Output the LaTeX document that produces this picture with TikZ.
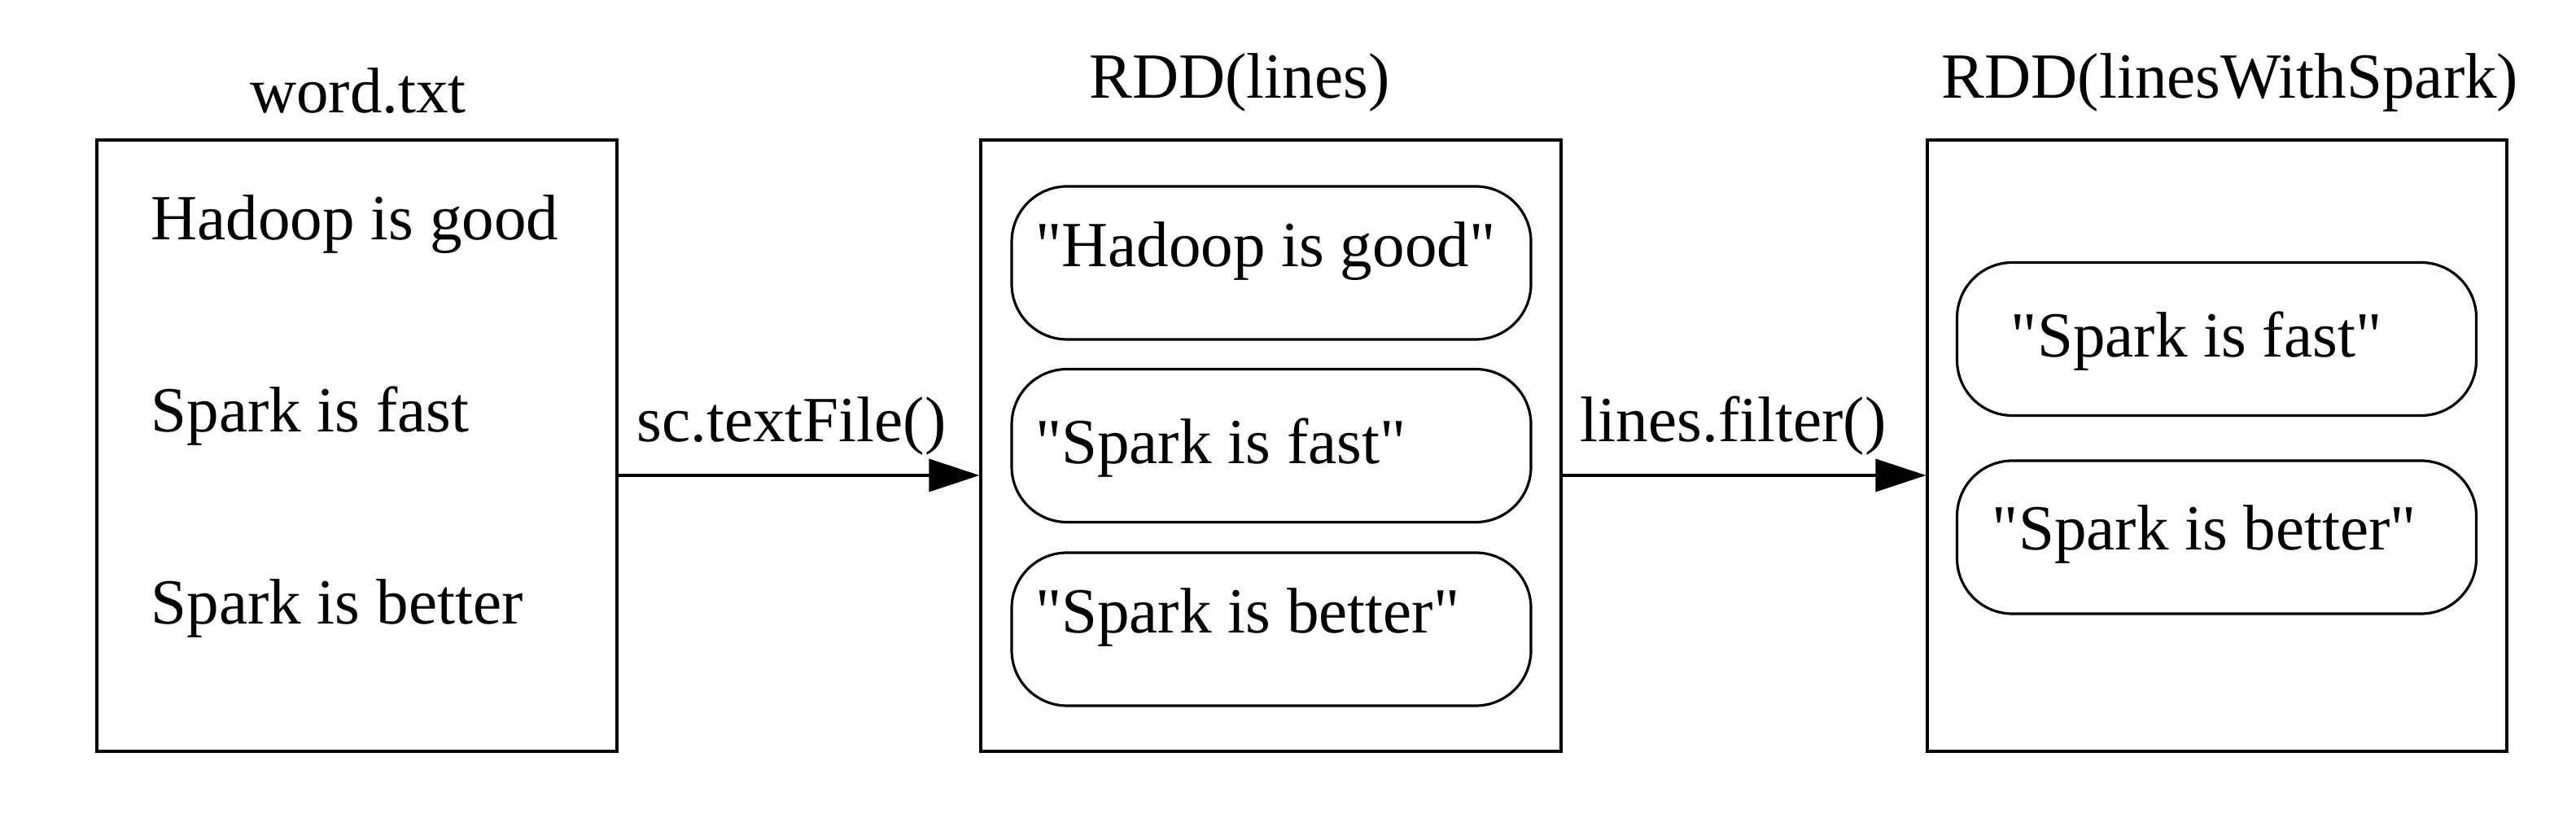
\documentclass[tikz,border=0pt]{standalone}
\usepackage{fontspec}
\setmainfont{Liberation Serif}
\usepackage{tikz}
\usetikzlibrary{arrows.meta,positioning}
\newcommand{\figfont}{\fontsize{22.5pt}{27pt}\selectfont}
\newcommand{\quoted}[1]{\textquotedbl#1\textquotedbl}
\newcommand{\rddrow}[1]{\makebox[5.8cm][l]{\quoted{#1}}}

\begin{document}
\begin{tikzpicture}[
  every node/.style={font=\figfont},
  store/.style={draw,line width=0.9pt,minimum height=7.51cm,inner sep=0pt},
  pill/.style={draw,line width=0.9pt,rounded corners=6.8mm,minimum height=1.88cm,
               minimum width=6.38cm,inner xsep=2.9mm,
               text height=5mm,text depth=4mm},
  lowpill/.style={pill,text height=7.5mm,text depth=3mm},
  heading/.style={anchor=base,inner sep=0pt},
  textline/.style={anchor=base west,inner sep=0pt},
  arrow/.style={-{Triangle[length=6.2mm,width=4mm]},line width=0.9pt},
  method/.style={above=2.3mm,inner sep=0pt}
]
\useasboundingbox (0,0) rectangle (31.65,10);

% Source file and its lines.
\node[store,minimum width=6.39cm] (file) at (4.385,4.525) {};
\node[heading] (filename) at (4.40,8.61) {word.txt};
\node[textline] (fline1) at (1.85,7.05) {Hadoop is good};
\node[textline] (fline2) at (1.85,4.69) {Spark is fast};
\node[textline] (fline3) at (1.85,2.33) {Spark is better};

% RDD created by textFile.
\node[store,minimum width=7.13cm] (lines) at (15.615,4.525) {};
\node[heading] (linesname) at (15.23,8.79) {RDD(lines)};
\node[pill] (lines1) at (15.62,6.77) {\rddrow{Hadoop is good}};
\node[lowpill] (lines2) at (15.62,4.525) {\rddrow{Spark is fast}};
\node[pill] (lines3) at (15.62,2.27) {\rddrow{Spark is better}};

% RDD after the filter.
\node[store,minimum width=7.12cm] (spark) at (27.24,4.525) {};
\node[heading] (sparkname) at (27.40,8.79) {RDD(linesWithSpark)};
\node[lowpill] (spark1) at (27.235,5.835) {\quoted{Spark is fast}\kern5mm};
\node[lowpill,text height=6.7mm,text depth=3.5mm] (spark2) at (27.235,3.40)
  {\quoted{Spark is better}\kern3mm};

% Transformations.
\draw[arrow] ([yshift=-3.65mm]file.east) -- node[method,pos=0.48] (textfile)
  {sc.textFile()} ([yshift=-3.65mm]lines.west);
\draw[arrow] ([yshift=-3.65mm]lines.east) -- node[method,pos=0.47] (filter)
  {lines.filter()} ([yshift=-3.65mm]spark.west);
\end{tikzpicture}
\end{document}
